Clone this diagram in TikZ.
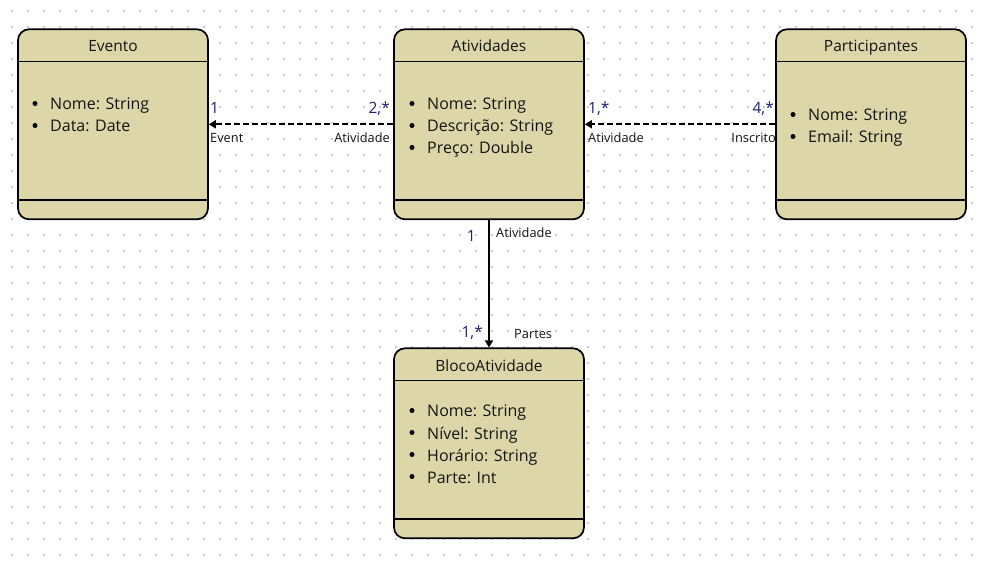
\documentclass[tikz,border=0pt]{standalone}
\usepackage{fontspec}
\setmainfont{Open Sans}
\usetikzlibrary{arrows.meta}
\definecolor{boxfill}{RGB}{220,214,169}
\definecolor{griddot}{RGB}{200,200,220}
\definecolor{mult}{RGB}{30,30,115}
\definecolor{ink}{RGB}{20,20,20}
\tikzset{
  umlbox/.style={draw=black, line width=1.7pt, fill=boxfill, rounded corners=11pt,
    minimum width=190pt, minimum height=190pt, inner sep=0pt},
  sepline/.style={line width=1.7pt},
  titletext/.style={anchor=base, font=\fontsize{15.5}{18}\selectfont, inner sep=0pt, text=ink},
  itemtext/.style={anchor=base west, font=\fontsize{16}{20}\selectfont, inner sep=0pt, text=ink},
  bul/.style={fill=black, circle, inner sep=0pt, minimum size=5pt},
  lbl/.style={font=\fontsize{12.8}{14}\selectfont, inner sep=0pt, text=ink},
  mul/.style={font=\fontsize{15.5}{18}\selectfont, inner sep=0pt, text=mult},
  conn/.style={line width=1.8pt, -{Triangle[length=7pt,width=8pt]}},
  dashconn/.style={conn, dash pattern=on 6pt off 3pt},
}
\begin{document}
\begin{tikzpicture}[x=1pt,y=-1pt]
\fill[white] (0,0) rectangle (983,561);
\useasboundingbox (0,0) rectangle (983,561);
% dotted grid
\foreach \i in {0,...,60}{
  \foreach \j in {0,...,34}{
    \fill[griddot] ({11.7+16*\i-0.9},{10.7+16*\j-0.9}) rectangle ++(1.8,1.8);
  }
}
% boxes
\node[umlbox] (evento) at (113,124.3) {};
\node[umlbox] (ativ) at (489,124.3) {};
\node[umlbox] (part) at (871,124.3) {};
\node[umlbox] (bloco) at (489,443.3) {};
\foreach \b in {evento,ativ,part,bloco}{
  \draw[sepline] ([yshift=-33pt]\b.north west) -- ([yshift=-33pt]\b.north east);
  \draw[sepline] ([yshift=20pt]\b.south west) -- ([yshift=20pt]\b.south east);
}
% titles
\node[titletext] (tev) at (113,52) {Evento};
\node[titletext] (tat) at (489,52) {Atividades};
\node[titletext] (tpa) at (871,52) {Participantes};
\node[titletext] (tbl) at (489,372) {BlocoAtividade};
% Evento items
\node[bul] (be1) at (35,103.5) {}; \node[itemtext] (ie1) at (50,110) {Nome: String};
\node[bul] (be2) at (35,125.5) {}; \node[itemtext] (ie2) at (50,132) {Data: Date};
% Atividades items
\node[bul] (ba1) at (412,103.5) {}; \node[itemtext] (ia1) at (427,110) {Nome: String};
\node[bul] (ba2) at (412,125.5) {}; \node[itemtext] (ia2) at (427,132) {Descrição: String};
\node[bul] (ba3) at (412,147.5) {}; \node[itemtext] (ia3) at (427,154) {Preço: Double};
% Participantes items
\node[bul] (bp1) at (793,114.5) {}; \node[itemtext] (ip1) at (808,121) {Nome: String};
\node[bul] (bp2) at (793,136.5) {}; \node[itemtext] (ip2) at (808,143) {Email: String};
% BlocoAtividade items
\node[bul] (bb1) at (412,410.5) {}; \node[itemtext] (ib1) at (427,417) {Nome: String};
\node[bul] (bb2) at (412,432.5) {}; \node[itemtext] (ib2) at (427,439) {Nível: String};
\node[bul] (bb3) at (412,454.5) {}; \node[itemtext] (ib3) at (427,461) {Horário: String};
\node[bul] (bb4) at (412,476.5) {}; \node[itemtext] (ib4) at (427,483) {Parte: Int};
% connectors
\draw[dashconn] (ativ.west) -- (evento.east);
\draw[dashconn] (part.west) -- (ativ.east);
\draw[conn] (ativ.south) -- (bloco.north);
% labels: Atividades -> Evento
\node[mul, anchor=base west] (m1) at (210,114) {1};
\node[lbl, anchor=base west] (l1) at (210,143) {Event};
\node[mul, anchor=base east] (m2) at (390,114) {2,*};
\node[lbl, anchor=base east] (l2) at (390,143) {Atividade};
% labels: Participantes -> Atividades
\node[mul, anchor=base west] (m3) at (588,114) {1,*};
\node[lbl, anchor=base west] (l3) at (588,143) {Atividade};
\node[mul, anchor=base east] (m4) at (774,114) {4,*};
\node[lbl, anchor=base east] (l4) at (776,143) {Inscrito};
% labels: Atividades -> BlocoAtividade
\node[mul, anchor=base east] (m5) at (476,242) {1};
\node[lbl, anchor=base west] (l5) at (496,238) {Atividade};
\node[mul, anchor=base east] (m6) at (483,338) {1,*};
\node[lbl, anchor=base west] (l6) at (514,339) {Partes};
\end{tikzpicture}
\end{document}
